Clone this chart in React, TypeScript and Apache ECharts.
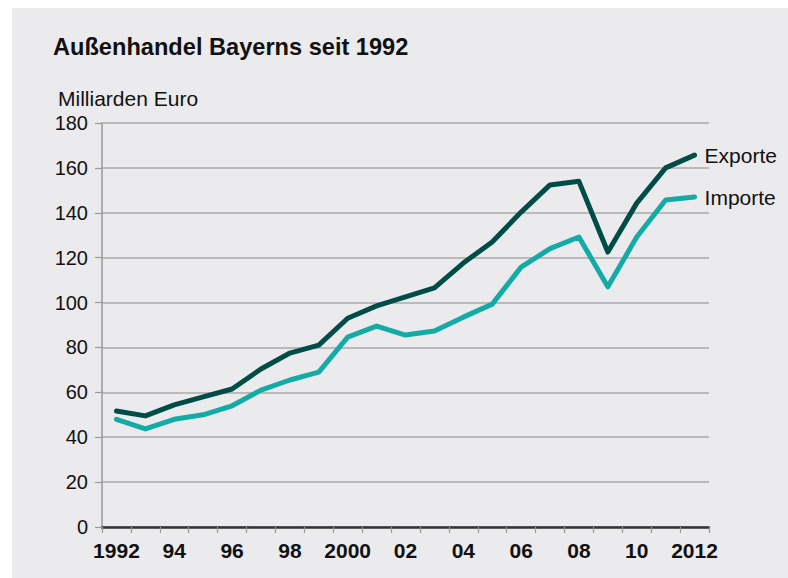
import React, { useEffect, useRef } from "react";
import * as echarts from "echarts";

const years = ["1992","1993","1994","1995","1996","1997","1998","1999","2000","2001","2002","2003","2004","2005","2006","2007","2008","2009","2010","2011","2012"];
const exporte = [51.7, 49.5, 54.4, 58, 61.5, 70.4, 77.5, 81, 93, 98.5, 102.5, 106.5, 117.6, 127, 140.3, 152.4, 154, 122.5, 144.3, 160, 165.7];
const importe = [48, 43.7, 48, 50, 54, 61, 65.5, 69, 84.6, 89.5, 85.5, 87.3, 93.5, 99.3, 115.8, 124, 129.2, 107, 129.2, 145.7, 147];
const xLabels: Record<string, string> = {
  "1992": "1992", "1994": "94", "1996": "96", "1998": "98", "2000": "2000", "2002": "02",
  "2004": "04", "2006": "06", "2008": "08", "2010": "10", "2012": "2012",
};
const title = "Außenhandel Bayerns seit 1992";
const unit = "Milliarden Euro";

const FONT = "'Liberation Sans', Arial, Helvetica, sans-serif";

export default function App() {
  const ref = useRef<HTMLDivElement>(null);
  useEffect(() => {
    document.body.style.margin = "0";
    if (!ref.current) return;
    const chart = echarts.init(ref.current, null, { renderer: "svg" });
    chart.setOption({
      animation: false,
      backgroundColor: "#ffffff",
      textStyle: { fontFamily: FONT },
      grid: { left: 102, right: 79, top: 123, bottom: 51, containLabel: false },
      graphic: [
        { type: "rect", z: -100, silent: true, shape: { x: 12, y: 8, width: 776, height: 570 }, style: { fill: "#ebebed" } },
        { type: "text", left: 53, top: 35, style: { text: title, font: `bold 23.6px ${FONT}`, fill: "#111" } },
        { type: "text", left: 58, top: 88, style: { text: unit, font: `21px ${FONT}`, fill: "#111" } },
      ],
      xAxis: {
        type: "category",
        data: years,
        boundaryGap: true,
        axisLine: { show: true, lineStyle: { color: "#333", width: 2.5 } },
        axisTick: { show: true, length: 6, lineStyle: { color: "#999", width: 1.2 }, interval: 0 },
        axisLabel: {
          interval: 0,
          margin: 13,
          fontSize: 21,
          fontWeight: "bold",
          color: "#111",
          fontFamily: FONT,
          formatter: (v: string) => xLabels[v] ?? "",
        },
        splitLine: { show: false },
      },
      yAxis: {
        type: "value",
        min: 0,
        max: 180,
        interval: 20,
        axisLine: { show: true, lineStyle: { color: "#999", width: 1.5 } },
        axisTick: { show: true, length: 7, lineStyle: { color: "#999", width: 1.2 } },
        axisLabel: { margin: 14, fontSize: 20, color: "#111", fontFamily: FONT },
        splitLine: { show: true, lineStyle: { color: "#aaaaaa", width: 1.5 } },
      },
      series: [
        {
          name: "Exporte",
          type: "line",
          data: exporte,
          symbol: "none",
          lineStyle: { color: "#004d48", width: 5, cap: "round", join: "round" },
          itemStyle: { color: "#004d48" },
          endLabel: { show: true, formatter: "{a}", distance: 10, fontSize: 21, color: "#111", fontFamily: FONT },
          z: 3,
        },
        {
          name: "Importe",
          type: "line",
          data: importe,
          symbol: "none",
          lineStyle: { color: "#14aba7", width: 5, cap: "round", join: "round" },
          itemStyle: { color: "#14aba7" },
          endLabel: { show: true, formatter: "{a}", distance: 10, fontSize: 21, color: "#111", fontFamily: FONT },
          z: 2,
        },
      ],
    });
    return () => chart.dispose();
  }, []);
  return <div ref={ref} style={{ width: 788, height: 578 }} />;
}
